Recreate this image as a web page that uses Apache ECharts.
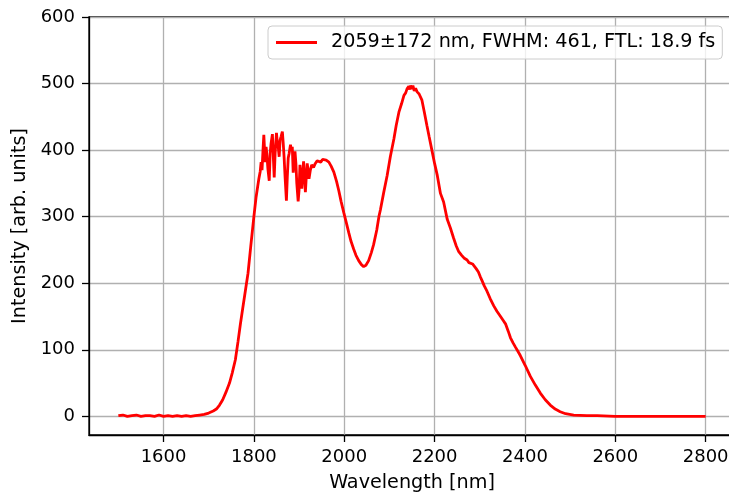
<!DOCTYPE html>
<html>
<head>
<meta charset="utf-8">
<script src="https://cdn.jsdelivr.net/npm/echarts@6/dist/echarts.min.js"></script>
<style>html,body{margin:0;padding:0;background:#fff;}#c{width:729px;height:495px;}</style>
</head>
<body>
<div id="c"></div>
<script>
const seriesName = '2059±172 nm, FWHM: 461, FTL: 18.9 fs';
const xTicks = [1600, 1800, 2000, 2200, 2400, 2600, 2800];
const yTicks = [0, 100, 200, 300, 400, 500, 600];
const wavelength = [
1500,1510,1520,1530,1540,1550,1560,1570,1580,1590,1600,1610,1620,1630,1640,1650,1660,1670,1680,1690,
1700,1710,1717,1724,1731,1738,1746,1752,1759,1765,1770,1775,1781,1787,1793,1800,1805,1811,1814,1816,
1818,1820,1822,1824,1825,1827,1829,1831,1834,1836,1838,1841,1843,1845,1847,1850,1852,1854,1856,1858,
1860,1863,1865,1867,1869,1872,1874,1876,1878,1881,1883,1885,1887,1889,1891,1893,1895,1898,1900,1902,
1904,1906,1908,1910,1912,1914,1916,1918,1920,1922,1925,1928,1932,1936,1940,1944,1948,1952,1956,1960,
1966,1971,1977,1983,1988,1993,1999,2005,2010,2015,2021,2026,2032,2038,2043,2048,2054,2060,2065,2072,
2077,2080,2087,2095,2102,2110,2115,2121,2127,2132,2136,2139,2141,2143,2145,2147,2150,2152,2155,2158,
2161,2164,2166,2172,2177,2183,2188,2194,2200,2206,2213,2220,2228,2235,2242,2248,2253,2260,2265,2268,
2272,2276,2280,2284,2287,2292,2297,2301,2305,2310,2316,2323,2331,2338,2346,2352,2357,2363,2368,2374,
2379,2385,2390,2401,2412,2423,2434,2445,2456,2467,2478,2490,2508,2537,2560,2600,2650,2700,2750,2800
];
const intensity = [
1,2,0,1,2,0,1,1,0,2,0,1,0,1,0,1,0,1,2,3,
5,8,11,17,25,36,50,65,85,113,138,161,188,215,255,300,330,357,368,382,
370,398,423,395,382,405,392,372,354,395,410,424,390,359,395,426,410,404,390,415,
420,428,410,388,360,324,360,388,395,408,400,405,366,385,398,380,350,323,340,378,
360,342,365,383,360,337,360,380,370,357,370,378,374,380,384,387,382,386,384,385,
382,376,367,353,339,323,306,290,276,263,251,242,234,228,225,227,234,246,258,280,
301,310,335,362,390,417,437,457,470,482,486,492,490,496,491,497,492,497,489,493,
488,490,484,475,458,437,420,400,380,362,335,322,296,283,268,256,248,242,238,236,
235,231,233,229,228,222,217,210,204,196,188,177,166,158,150,144,139,128,118,110,
104,97,91,76,60,47,35,25,17,11,7,4,2,1,1,0,0,0,0,0
];
const points = wavelength.map((w, i) => [w, intensity[i]]);

const chart = echarts.init(document.getElementById('c'), null, {renderer: 'canvas'});
const font = 'DejaVu Sans';
chart.setOption({
  animation: false,
  backgroundColor: '#fff',
  grid: {left: 89, top: 17, bottom: 60, right: -6, containLabel: false, outerBoundsMode: 'none',
         show: true, borderColor: '#000', borderWidth: 1.3, backgroundColor: 'transparent'},
  legend: {
    data: [seriesName], left: 268, top: 26,
    backgroundColor: 'rgba(255,255,255,0.8)', borderColor: '#cccccc', borderWidth: 1, borderRadius: 4,
    padding: [7, 7, 7, 8], itemWidth: 41, itemHeight: 3, icon: 'rect',
    itemStyle: {color: '#ff0000'},
    textStyle: {fontFamily: font, fontSize: 19.2, color: '#000', padding: [0, 0, 0, 9]}
  },
  xAxis: {
    type: 'value', min: 1435, max: 2865,
    name: 'Wavelength [nm]', nameLocation: 'middle', nameGap: 39,
    nameTextStyle: {fontFamily: font, fontSize: 19.2, color: '#000'},
    axisLine: {show: true, onZero: false, lineStyle: {color: '#000', width: 1.3}},
    axisTick: {show: true, inside: false, length: 7, customValues: xTicks, lineStyle: {color: '#000', width: 1.3}},
    axisLabel: {fontFamily: font, fontSize: 18, color: '#000', margin: 13, customValues: xTicks,
                formatter: v => String(v)},
    splitLine: {show: true, lineStyle: {color: '#b0b0b0', width: 1.3}}
  },
  yAxis: {
    type: 'value', min: -28, max: 600,
    name: 'Intensity [arb. units]', nameLocation: 'middle', nameGap: 59,
    nameTextStyle: {fontFamily: font, fontSize: 19.2, color: '#000'},
    axisLine: {show: true, onZero: false, lineStyle: {color: '#000', width: 1.3}},
    axisTick: {show: true, inside: false, length: 7, customValues: yTicks, lineStyle: {color: '#000', width: 1.3}},
    axisLabel: {fontFamily: font, fontSize: 18, color: '#000', margin: 14, customValues: yTicks,
                formatter: v => String(v)},
    splitLine: {show: true, lineStyle: {color: '#b0b0b0', width: 1.3}}
  },
  series: [{
    name: seriesName, type: 'line', data: points, showSymbol: false, symbol: 'none',
    lineStyle: {color: '#ff0000', width: 2.8}, itemStyle: {color: '#ff0000'}, z: 3
  }]
});
</script>
</body>
</html>
